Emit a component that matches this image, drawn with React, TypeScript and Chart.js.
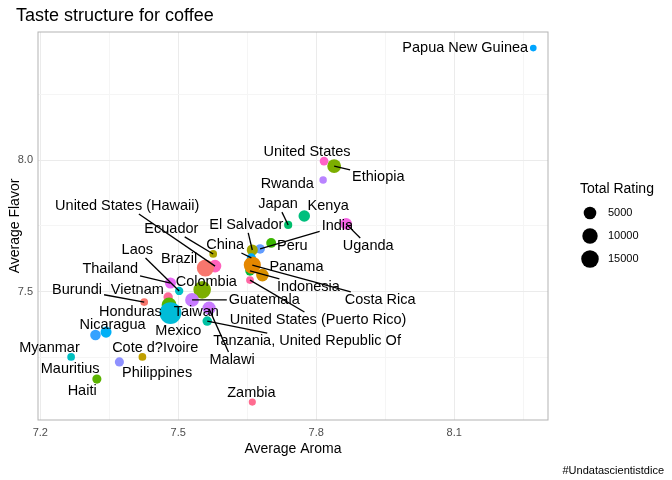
import React, { useEffect, useRef } from "react";
import { Chart, registerables } from "chart.js";
Chart.register(...registerables);

const countries = ["Papua New Guinea","United States","Ethiopia","Rwanda","Kenya","Japan","Uganda","India","Peru","El Salvador","China","Ecuador","United States (Hawaii)","Brazil","Laos","Thailand","Colombia","Vietnam","Burundi","Panama","Indonesia","Costa Rica","Guatemala","United States (Puerto Rico)","Honduras","Taiwan","Mexico","Nicaragua","Tanzania, United Republic Of","Malawi","Myanmar","Cote d?Ivoire","Mauritius","Philippines","Haiti","Zambia",""];
const aroma = [8.272,7.817,7.839,7.815,7.774,7.739,7.865,7.678,7.702,7.661,7.659,7.576,7.580,7.559,7.502,7.483,7.552,7.478,7.426,7.683,7.656,7.661,7.530,7.656,7.480,7.567,7.483,7.343,7.563,7.567,7.267,7.422,7.267,7.372,7.323,7.661,7.320];
const flavor = [8.424,7.996,7.977,7.924,7.788,7.754,7.758,7.663,7.686,7.659,7.629,7.644,7.598,7.591,7.504,7.534,7.508,7.481,7.462,7.564,7.580,7.602,7.470,7.545,7.451,7.439,7.420,7.348,7.390,7.436,7.254,7.254,7.254,7.235,7.170,7.083,7.337];
const rating = [80,900,7000,300,3500,600,4000,1500,1800,3000,1200,400,5000,14000,700,3000,15000,1400,400,5000,1500,14000,7000,400,9000,6000,28000,3000,1500,300,400,400,0,1200,1200,200,2500];
const colors = ["#00A5FF","#FF61C9","#7CAE00","#B983FF","#00BF7D","#00BE6C","#F564E3","#619CFF","#39B600","#A3A500","#00A9FF","#ABA300","#FF62BC","#F8766D","#00BFC4","#E76BF3","#7CAE00","#FF6A98","#F8766D","#D89000","#00BA38","#E58700","#C77CFF","#FF67A4","#53B400","#C77CFF","#00BCD8","#00B0F6","#00C1A3","#D575FE","#00BCD0","#BF9F00","#00C0B8","#8F91FF","#5BB300","#FF6C90","#35A2FF"];
const labelX = [8.124,7.780,7.935,7.737,7.826,7.717,7.913,7.846,7.748,7.648,7.602,7.485,7.389,7.502,7.411,7.352,7.561,7.411,7.280,7.757,7.783,7.939,7.687,7.804,7.396,7.539,7.500,7.357,7.780,7.617,7.220,7.450,7.265,7.454,7.291,7.659,7.320];
const labelY = [8.424,8.030,7.936,7.909,7.826,7.833,7.674,7.750,7.674,7.754,7.678,7.739,7.826,7.625,7.659,7.587,7.538,7.508,7.508,7.595,7.519,7.470,7.470,7.394,7.424,7.424,7.352,7.375,7.314,7.242,7.288,7.288,7.208,7.193,7.125,7.117,7.337];
const xTicks = [7.2, 7.5, 7.8, 8.1];
const yTicks = [7.5, 8.0];
const legendValues = [5000, 10000, 15000];

const rad = (v: number) => Math.max(2.5, 2.9 + 0.048 * Math.sqrt(v));
const FONT = "'Liberation Sans', Arial, sans-serif";

export default function App() {
  const ref = useRef<HTMLCanvasElement>(null);
  useEffect(() => {
    document.body.style.margin = "0";
    const plugin = {
      id: "deco",
      beforeDraw(c: any) {
        const ctx = c.ctx;
        ctx.save();
        ctx.fillStyle = "#fff";
        ctx.fillRect(0, 0, c.width, c.height);
        ctx.restore();
      },
      afterDatasetsDraw(c: any) {
        const ctx = c.ctx, xs = c.scales.x, ys = c.scales.y, a = c.chartArea;
        ctx.save();
        ctx.strokeStyle = "#b3b3b3"; ctx.lineWidth = 1;
        ctx.strokeRect(a.left, a.top, a.right - a.left, a.bottom - a.top);
        ctx.font = `14.5px ${FONT}`;
        ctx.textAlign = "center"; ctx.textBaseline = "middle";
        countries.forEach((n, i) => {
          if (!n) return;
          const px = xs.getPixelForValue(aroma[i]), py = ys.getPixelForValue(flavor[i]);
          const lx = xs.getPixelForValue(labelX[i]), ly = ys.getPixelForValue(labelY[i]);
          const w = ctx.measureText(n).width / 2 + 2, h = 8;
          const dx = px - lx, dy = py - ly;
          if (Math.abs(dx) > w || Math.abs(dy) > h) {
            const t = Math.min(dx !== 0 ? w / Math.abs(dx) : Infinity, dy !== 0 ? h / Math.abs(dy) : Infinity);
            const sx = lx + dx * t, sy = ly + dy * t;
            const dist = Math.hypot(px - sx, py - sy);
            if (dist > 11) {
              ctx.strokeStyle = "#000"; ctx.lineWidth = 1.3;
              ctx.beginPath(); ctx.moveTo(sx, sy); ctx.lineTo(px, py); ctx.stroke();
            }
          }
          ctx.fillStyle = "#000";
          ctx.fillText(n, lx, ly);
        });
        ctx.textAlign = "left"; ctx.textBaseline = "alphabetic";
        ctx.font = `18px ${FONT}`;
        ctx.fillText("Taste structure for coffee", 16, 21);
        ctx.font = `14px ${FONT}`;
        ctx.textAlign = "center";
        ctx.fillText("Average Aroma", (a.left + a.right) / 2, 453);
        ctx.save(); ctx.translate(19, (a.top + a.bottom) / 2); ctx.rotate(-Math.PI / 2);
        ctx.fillText("Average Flavor", 0, 0); ctx.restore();
        ctx.font = `11px ${FONT}`; ctx.textAlign = "right";
        ctx.fillText("#Undatascientistdice", 664, 474);
        ctx.textAlign = "left"; ctx.font = `14px ${FONT}`;
        ctx.fillText("Total Rating", 580, 193);
        ctx.font = `11px ${FONT}`;
        legendValues.forEach((v, i) => {
          const cy = 213 + i * 23;
          ctx.fillStyle = "#000";
          ctx.beginPath(); ctx.arc(590, cy, rad(v), 0, Math.PI * 2); ctx.fill();
          ctx.textBaseline = "middle";
          ctx.fillText(String(v), 608, cy);
        });
        ctx.restore();
      },
    };
    const chart = new Chart(ref.current!, {
      type: "bubble",
      data: {
        datasets: [{
          data: countries.map((_, i) => ({ x: aroma[i], y: flavor[i], r: rad(rating[i]) })),
          backgroundColor: colors,
          borderWidth: 0,
        }],
      },
      options: {
        animation: false,
        responsive: false,
        events: [],
        layout: { padding: { top: 32, right: 124, left: 0, bottom: 0 } },
        plugins: { legend: { display: false }, tooltip: { enabled: false } },
        scales: {
          x: {
            type: "linear", min: 7.195, max: 8.304,
            afterBuildTicks: (s: any) => { s.ticks = [7.35, 7.65, 7.95, 8.25].concat(xTicks).sort().map((v) => ({ value: v })); },
            afterFit: (s: any) => { s.height = 60; },
            grid: { color: (c: any) => (xTicks.includes(c.tick?.value) ? "#ebebeb" : "#f5f5f5"), drawTicks: false },
            border: { display: false },
            ticks: { padding: 6, color: "#4d4d4d", font: { family: FONT, size: 11 }, callback: (v: any) => (xTicks.includes(v) ? Number(v).toFixed(1) : "") },
          },
          y: {
            type: "linear", min: 7.015, max: 8.485,
            afterBuildTicks: (s: any) => { s.ticks = [7.25, 7.5, 7.75, 8.0, 8.25].map((v) => ({ value: v })); },
            afterFit: (s: any) => { s.width = 38; },
            grid: { color: (c: any) => (yTicks.includes(c.tick?.value) ? "#ebebeb" : "#f5f5f5"), drawTicks: false },
            border: { display: false },
            ticks: { padding: 5, color: "#4d4d4d", font: { family: FONT, size: 11 }, callback: (v: any) => (yTicks.includes(v) ? Number(v).toFixed(1) : "") },
          },
        },
      },
      plugins: [plugin],
    } as any);
    return () => chart.destroy();
  }, []);
  return <canvas ref={ref} width={672} height={480} style={{ display: "block" }} />;
}
